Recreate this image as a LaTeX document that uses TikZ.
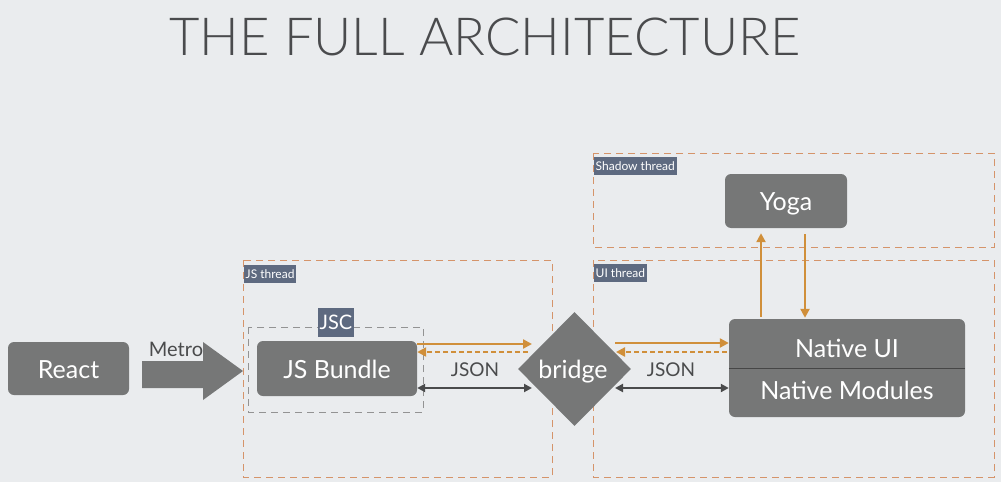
\documentclass[tikz,border=0pt]{standalone}
\usepackage{fontspec}
\setmainfont{Lato}
\newfontfamily\titlefont{Lato Light}
\usetikzlibrary{arrows.meta,shapes.geometric}
\definecolor{bg}{HTML}{EAECEE}
\definecolor{boxfill}{HTML}{767777}
\definecolor{ora}{HTML}{D08F3A}
\definecolor{frameo}{HTML}{D5946A}
\definecolor{slate}{HTML}{5E6A80}
\definecolor{dark}{HTML}{4A4B4C}
\definecolor{titlec}{HTML}{4A4B4D}
\tikzset{
  box/.style={fill=boxfill, rounded corners=6pt, inner sep=0pt},
  boxtext/.style={text=white, inner sep=0pt, anchor=base, font=\fontsize{25}{28}\selectfont},
  frame/.style={draw=frameo, line width=0.9pt, dash pattern=on 7pt off 5pt},
  jscframe/.style={draw=gray!85, line width=0.9pt, dash pattern=on 7pt off 5pt},
  tag/.style={fill=slate, text=white, inner xsep=2pt, inner ysep=0pt, minimum height=18pt,
    font=\fontsize{12}{14}\selectfont},
  oarrow/.style={draw=ora, line width=2.4pt, -{Triangle[length=9pt,width=9pt]}},
  odash/.style={draw=ora, line width=2.4pt, dash pattern=on 5pt off 3pt, -{Triangle[length=9pt,width=9pt]}},
  darrow/.style={draw=dark, line width=2pt, {Triangle[length=8pt,width=8pt]}-{Triangle[length=8pt,width=8pt]}},
  lbl/.style={text=dark, font=\fontsize{19}{22}\selectfont, inner sep=0pt, anchor=base}
}
\begin{document}
\begin{tikzpicture}[x=1pt,y=-1pt]
\useasboundingbox (0,0) rectangle (1001,482);
\fill[bg] (0,0) rectangle (1001,482);

% title
\node[text=titlec, font=\titlefont\fontsize{52.5}{56}\selectfont, inner sep=0pt, anchor=base] (title) at (485,55) {THE FULL ARCHITECTURE};

% frames
\draw[frame] (243,260) rectangle (552,477);
\draw[frame] (593,260) rectangle (994,477);
\draw[frame] (593,153) rectangle (994,247);
\draw[jscframe] (248,327) rectangle (423,412);

% frame tags
\node[tag, anchor=north west] (jstag) at (243.5,265) {JS thread};
\node[tag, anchor=north west] (uitag) at (593.5,263.5) {UI thread};
\node[tag, anchor=north west] (shtag) at (593.5,157) {Shadow thread};
\node[tag, font=\fontsize{20}{22}\selectfont, minimum width=34pt, minimum height=29pt] (jsc) at (336,322.5) {JSC};

% boxes
\node[box, minimum width=121pt, minimum height=53pt] (react) at (68.5,368.5) {};
\node[boxtext] (reactt) at (68.5,378) {React};
\node[box, minimum width=160pt, minimum height=55pt] (jsb) at (337,368.5) {};
\node[boxtext] (jsbt) at (337,378) {JS Bundle};
\node[box, minimum width=122pt, minimum height=54pt] (yoga) at (786,201) {};
\node[boxtext] (yogat) at (786,210) {Yoga};
\node[box, minimum width=236pt, minimum height=98pt] (native) at (847,368) {};
\node[boxtext] (nui) at (847,357) {Native UI};
\node[boxtext] (nmod) at (847,399) {Native Modules};
\draw[draw=gray!55!black, line width=0.8pt] (native.west |- 0,368) -- (native.east |- 0,368);

% bridge
\node[diamond, fill=boxfill, inner sep=0pt, minimum width=113pt, minimum height=114pt] (bridge) at (574.5,369) {};
\node[boxtext] (bridget) at (573,378) {bridge};

% Metro fat arrow
\fill[boxfill] (142,361) -- (203,361) -- (203,342) -- (243,371) -- (203,400) -- (203,388) -- (142,388) -- cycle;
\node[lbl, font=\fontsize{20}{22}\selectfont] (metro) at (176,356) {Metro};

% left arrows
\draw[oarrow] (jsb.east |- 0,344) -- (532,344);
\draw[odash] (528,352) -- (jsb.east |- 0,352);
\draw[darrow] (jsb.east |- 0,388) -- (532,388);
\node[lbl] (json1) at (475,376) {JSON};

% right arrows
\draw[oarrow] (615,343) -- (native.west |- 0,343);
\draw[odash] ([xshift=-2pt]native.west |- 0,352) -- (616,352);
\draw[darrow] (615,388) -- (native.west |- 0,388);
\node[lbl] (json2) at (671,376) {JSON};

% vertical arrows
\draw[oarrow] ([yshift=2pt]761,0 |- native.north) -- ([yshift=-5pt]761,0 |- yoga.south);
\draw[oarrow] ([yshift=-6pt]805,0 |- yoga.south) -- ([yshift=1pt]805,0 |- native.north);
\end{tikzpicture}
\end{document}
